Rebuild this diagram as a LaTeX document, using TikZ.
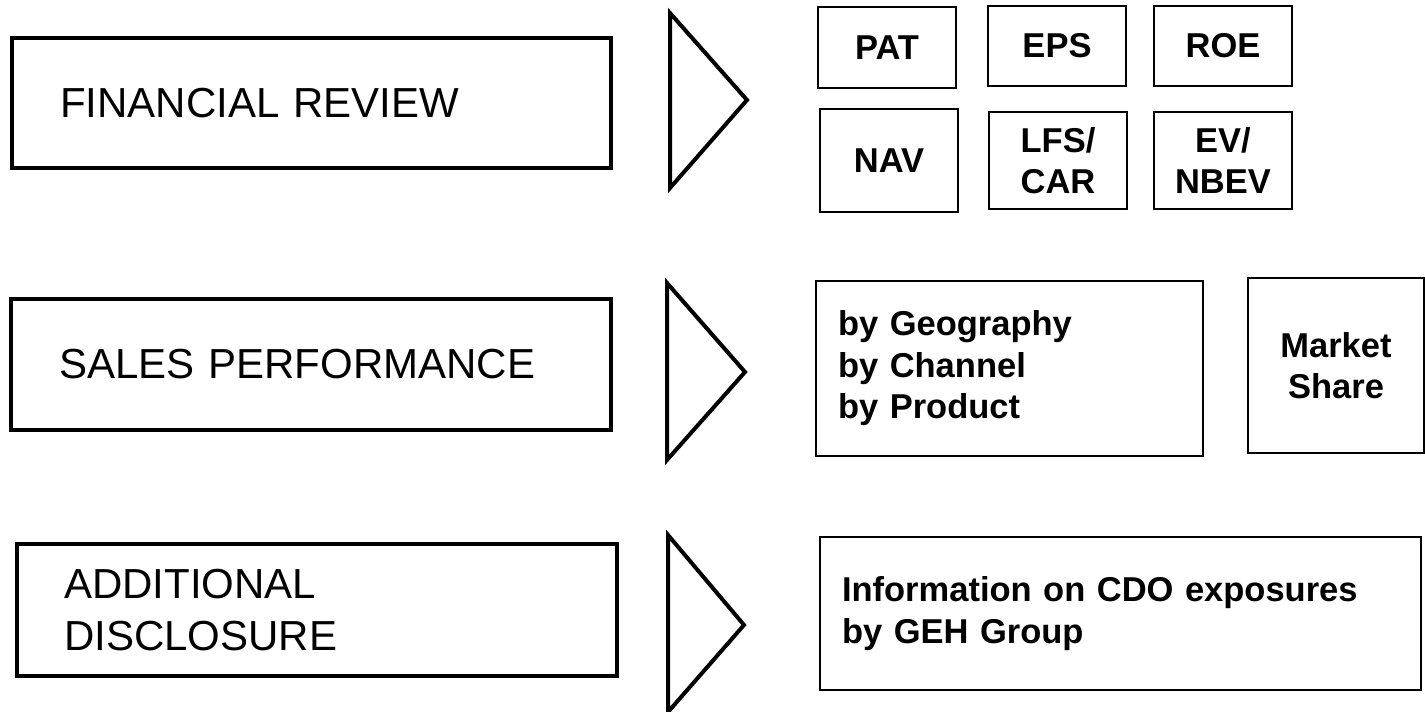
\documentclass[tikz,border=0pt]{standalone}
\usepackage{fontspec}
\setmainfont{Liberation Sans}
\begin{document}
\begin{tikzpicture}[x=1pt,y=-1pt,
  bigbox/.style={draw, line width=4pt, inner sep=0pt, inner xsep=48pt, align=left,
     font=\fontsize{42}{52}\selectfont},
  smallbox/.style={draw, line width=2.5pt, inner sep=0pt, align=center,
     font=\bfseries\fontsize{34.5}{41.5}\selectfont},
  listbox/.style={draw, line width=2.5pt, inner sep=0pt, inner xsep=22pt, align=left,
     font=\bfseries\fontsize{34.5}{41.5}\selectfont},
  arrowtri/.style={draw, line width=4pt, line join=miter}
]
\useasboundingbox (0,0) rectangle (1425,712);
\fill[white] (0,0) rectangle (1425,712);

% left boxes
\node[bigbox, minimum width=599pt, minimum height=130pt, text width=503pt] (fin) at (311.5,103) {FINANCIAL REVIEW};
\node[bigbox, minimum width=600pt, minimum height=131pt, text width=504pt] (sales) at (311,364.5) {SALES PERFORMANCE};
\node[bigbox, minimum width=600pt, minimum height=132pt, text width=506pt, inner xsep=47pt] (add) at (317,610) {ADDITIONAL\\DISCLOSURE};

% triangles
\draw[arrowtri] (670,13) -- (747,100) -- (670,188) -- cycle;
\draw[arrowtri] (667,283) -- (745,372) -- (667,460) -- cycle;
\draw[arrowtri] (668,535) -- (744,625) -- (668,712) -- cycle;

% financial indicators
\node[smallbox, minimum width=138pt, minimum height=81pt] (pat) at (887,47.5) {PAT};
\node[smallbox, minimum width=138pt, minimum height=80pt] (eps) at (1057,46) {EPS};
\node[smallbox, minimum width=138pt, minimum height=80pt] (roe) at (1223,46) {ROE};
\node[smallbox, minimum width=138pt, minimum height=103pt] (nav) at (889,160.5) {NAV};
\node[smallbox, minimum width=138pt, minimum height=97pt] (lfs) at (1058,160.5) {LFS/\\CAR};
\node[smallbox, minimum width=138pt, minimum height=97pt] (ev) at (1223,160.5) {EV/\\NBEV};

% sales
\node[listbox, minimum width=387pt, minimum height=175pt, text width=343pt] (geo) at (1009.5,368.5) {by Geography\\by Channel\\by Product};
\node[smallbox, minimum width=176pt, minimum height=175pt] (mkt) at (1336,365.5) {Market\\Share};

% disclosure
\node[listbox, minimum width=601pt, minimum height=153pt, text width=557pt] (info) at (1120.5,613.5) {Information on CDO exposures\\by GEH Group};
\end{tikzpicture}
\end{document}
